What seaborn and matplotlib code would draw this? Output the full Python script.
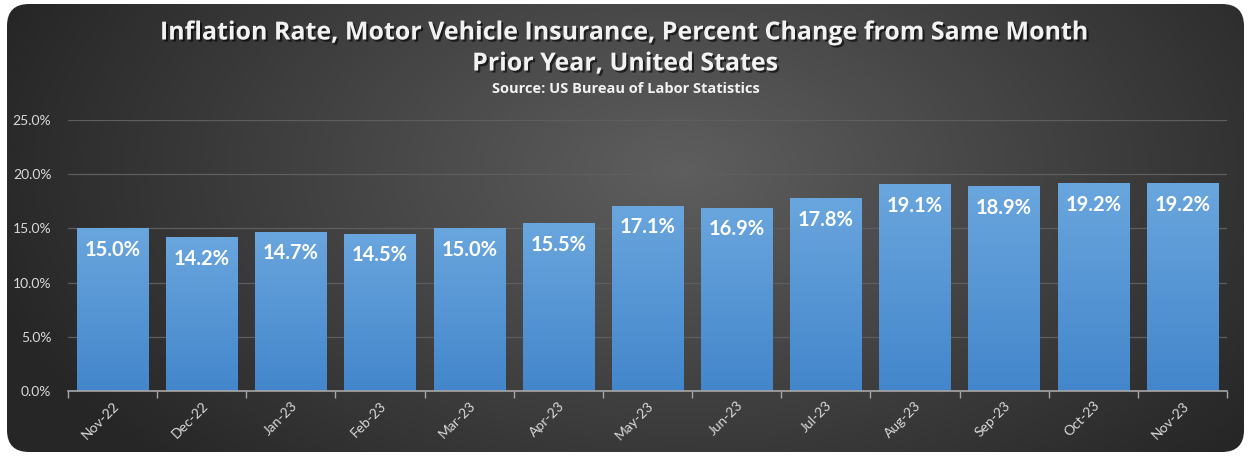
import numpy as np
import pandas as pd
import matplotlib
matplotlib.use("Agg")
import matplotlib.pyplot as plt
import matplotlib.patheffects as pe
from matplotlib.patches import FancyBboxPatch
from matplotlib.ticker import FuncFormatter, MultipleLocator
import seaborn as sns

months = ["Nov-22", "Dec-22", "Jan-23", "Feb-23", "Mar-23", "Apr-23", "May-23",
          "Jun-23", "Jul-23", "Aug-23", "Sep-23", "Oct-23", "Nov-23"]
rates = [15.0, 14.2, 14.7, 14.5, 15.0, 15.5, 17.1, 16.9, 17.8, 19.1, 18.9, 19.2, 19.2]
title_line1 = "Inflation Rate, Motor Vehicle Insurance, Percent Change from Same Month"
title_line2 = "Prior Year, United States"
subtitle = "Source: US Bureau of Labor Statistics"

sns.set_theme(style="dark")
plt.rcParams['font.family'] = ['Lato', 'DejaVu Sans']

W, H = 1251, 457
fig = plt.figure(figsize=(W / 100, H / 100), dpi=100)
fig.patch.set_facecolor("white")

# background panel with radial gradient
bg = fig.add_axes([0, 0, 1, 1])
bg.set_xlim(0, W)
bg.set_ylim(H, 0)
bg.axis("off")
yy, xx = np.mgrid[0:H, 0:W]
d = np.sqrt(((xx - 680) / 720.0) ** 2 + ((yy - 170) / 420.0) ** 2)
d = np.clip(d, 0, 1)
g = 0.37 - 0.22 * d
img = np.dstack([g, g, g])
im = bg.imshow(img, extent=[0, W, H, 0], aspect="auto", interpolation="bilinear")
panel = FancyBboxPatch((7, 4), W - 14, H - 9, boxstyle="round,pad=0,rounding_size=22",
                       transform=bg.transData, facecolor="none", edgecolor="none")
bg.add_patch(panel)
im.set_clip_path(panel)

# plot axes
ax = fig.add_axes([68 / W, 1 - 391 / H, (1227 - 68) / W, (391 - 120) / H])
ax.set_facecolor("none")
df = pd.DataFrame({"month": months, "rate": rates})
sns.barplot(data=df, x="month", y="rate", color="#5b9bd5", width=0.8, ax=ax,
            saturation=1, zorder=2)
ax.set_ylim(0, 25)
ax.set_xlim(-0.5, len(months) - 0.5)

# gradient fill for bars
grad = np.linspace(0, 1, 256)[:, None]
c_top = np.array([0x6a, 0xa6, 0xde]) / 255
c_bot = np.array([0x43, 0x86, 0xcb]) / 255
gimg = c_top[None, None, :] * (1 - grad[..., None]) + c_bot[None, None, :] * grad[..., None]
for p in ax.patches:
    x0, y0 = p.get_x(), p.get_y()
    w, h = p.get_width(), p.get_height()
    p.set_edgecolor("none")
    gi = ax.imshow(gimg, extent=[x0, x0 + w, y0, y0 + h], aspect="auto", zorder=3,
                   interpolation="bilinear")
    gi.set_clip_path(p)
    ax.text(x0 + w / 2, h - 2.0, f"{h:.1f}%", ha="center", va="center",
            color="white", fontsize=14.5, fontweight="bold", zorder=5)
ax.set_xlim(-0.5, len(months) - 0.5)
ax.set_ylim(0, 25)

ax.yaxis.set_major_locator(MultipleLocator(5))
ax.yaxis.set_major_formatter(FuncFormatter(lambda v, _: f"{v:.1f}%"))
ax.grid(axis="y", color="#5e5e5e", linewidth=0.9, zorder=0)
ax.grid(axis="x", visible=False)
ax.set_axisbelow(True)
for s in ["top", "right", "left"]:
    ax.spines[s].set_visible(False)
ax.spines["bottom"].set_color("#a6a6a6")
ax.spines["bottom"].set_linewidth(1.2)
ax.spines["bottom"].set_zorder(6)
ax.set_xlabel("")
ax.set_ylabel("")
ax.tick_params(axis="y", colors="#d9d9d9", labelsize=10, length=0, pad=12)
ax.tick_params(axis="x", colors="#d9d9d9", labelsize=10, length=0, pad=6)
for lab in ax.get_xticklabels():
    lab.set_rotation(45)
    lab.set_ha("right")
    lab.set_rotation_mode("anchor")
# minor ticks between categories on bottom axis
ax.set_xticks(np.arange(-0.5, len(months), 1.0), minor=True)
ax.tick_params(axis="x", which="minor", length=5, color="#a6a6a6", width=1.0,
               direction="out", bottom=True)

shadow = [pe.withSimplePatchShadow(offset=(1.5, -1.5), shadow_rgbFace="black", alpha=0.6)]
fig.text(0.5, 1 - 33 / H, title_line1, ha="center", va="center", color="#f2f2f2",
         fontsize=18, fontweight="bold", fontfamily="Open Sans", path_effects=shadow)
fig.text(0.5, 1 - 64 / H, title_line2, ha="center", va="center", color="#f2f2f2",
         fontsize=18, fontweight="bold", fontfamily="Open Sans", path_effects=shadow)
fig.text(0.5, 1 - 89 / H, subtitle, ha="center", va="center", color="#f2f2f2",
         fontsize=10.5, fontweight="bold", fontfamily="Open Sans")

fig.savefig("out.png", dpi=100, facecolor="white")
